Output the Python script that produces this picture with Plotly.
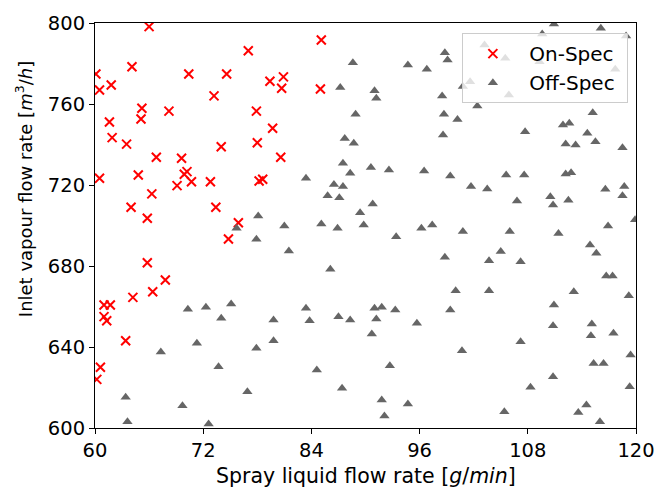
import plotly.graph_objects as go

# On-spec operating points: spray liquid flow [g/min], inlet vapour flow [m^3/h]
on_x = [66.0, 77.0, 64.1, 60.1, 70.4, 74.6, 79.4, 80.9, 80.7, 61.8, 60.5, 73.2,
        65.2, 65.1, 68.2, 77.9, 61.6, 79.7, 61.9, 63.5, 74.0, 78.0, 66.8, 69.6,
        80.6, 60.5, 64.8, 70.2, 69.9, 70.7, 69.1, 72.8, 78.2, 78.6, 66.3, 64.0,
        73.4, 65.8, 75.9, 74.8, 65.8, 67.8, 66.4, 64.2, 61.0, 61.7, 61.0, 61.3,
        63.4, 60.6, 60.2, 85.1, 85.0]
on_y = [798.2, 786.3, 778.4, 774.8, 774.8, 774.8, 771.2, 773.4, 767.8, 769.4, 766.9, 764.0,
        757.9, 752.6, 756.5, 756.5, 751.1, 748.0, 743.4, 740.2, 738.9, 740.9, 733.7, 733.2,
        733.7, 723.3, 724.9, 726.6, 725.3, 721.6, 719.7, 721.6, 722.0, 722.8, 715.6, 709.0,
        709.0, 703.6, 701.4, 693.3, 681.6, 673.1, 667.3, 664.5, 660.7, 660.7, 655.0, 653.0,
        643.1, 630.0, 624.0, 791.6, 767.4]

# Off-spec operating points
off_x = [78.1, 75.7, 77.9, 70.3, 72.3, 75.1, 74.0, 79.8, 79.8, 71.3, 77.9, 67.3,
         73.7, 76.9, 63.4, 69.7, 63.6, 72.6,
         81.0, 85.1, 86.9, 89.8, 93.4, 96.2, 97.4, 81.5, 98.8, 86.1, 100.0, 83.4,
         91.0, 91.8, 93.3, 99.4, 83.8, 87.0, 88.3, 91.2, 95.7, 90.7, 100.7, 84.6,
         92.7, 87.4, 91.8, 94.7, 92.1,
         100.8, 106.0, 111.4, 116.9, 119.9, 105.0, 103.7, 107.2, 114.9, 115.6, 116.7,
         117.4, 103.7, 113.1, 119.2, 110.9, 110.8, 115.1, 115.0, 117.5, 107.2, 119.4,
         115.3, 116.4, 110.8, 108.3, 119.3, 114.5, 113.6, 105.4, 116.0,
         88.6, 94.7, 96.8, 98.8, 99.1, 87.2, 91.0, 91.2, 98.5, 88.9, 98.7, 100.2,
         87.7, 88.7, 98.6, 87.5, 90.6, 92.6, 96.5, 99.4, 88.3, 83.4, 86.5, 87.5,
         85.8, 87.1, 90.8, 89.4,
         110.9, 116.1, 118.9, 109.6, 105.5, 109.3, 103.2, 117.7, 101.6, 100.8, 105.9,
         102.4, 115.2, 107.7, 111.9, 112.6, 114.6, 112.2, 113.3, 115.5, 118.5, 105.6,
         107.6, 112.2, 112.8, 101.7, 103.5, 116.6, 118.7, 118.5, 106.8, 110.5, 110.8,
         112.5]
off_y = [704.7, 698.6, 693.2, 658.6, 659.6, 661.2, 654.2, 653.3, 643.1, 641.8, 639.4, 637.5,
         630.3, 617.9, 615.2, 611.0, 603.1, 602.0,
         699.8, 700.7, 698.6, 700.2, 694.5, 698.6, 700.2, 687.4, 684.3, 678.4, 667.8, 659.1,
         659.1, 659.6, 658.3, 658.3, 653.0, 655.0, 653.3, 653.8, 651.7, 646.4, 638.2, 628.6,
         630.8, 619.6, 613.8, 611.8, 605.9,
         697.0, 697.0, 696.1, 699.8, 702.8, 687.1, 682.6, 682.1, 690.4, 686.3, 675.1,
         675.1, 667.8, 667.3, 665.3, 660.7, 650.5, 651.4, 645.6, 646.8, 642.6, 636.0,
         631.9, 631.9, 625.3, 620.1, 620.4, 611.4, 607.6, 608.0, 603.1,
         780.4, 779.3, 777.1, 785.3, 781.7, 768.1, 766.6, 762.8, 764.0, 754.9, 754.9, 752.4,
         743.0, 740.6, 744.7, 730.7, 728.7, 727.4, 726.9, 724.4, 725.8, 723.3, 720.3, 719.2,
         714.7, 713.7, 710.6, 706.3,
         799.5, 797.4, 793.6, 794.6, 782.6, 780.9, 789.1, 777.1, 771.0, 768.6, 764.4,
         759.0, 755.7, 746.3, 749.6, 750.5, 745.5, 740.2, 739.8, 741.4, 738.4, 724.9,
         724.9, 725.4, 726.1, 719.2, 718.0, 717.9, 719.2, 714.7, 712.1, 714.2, 710.1,
         712.5]

x_ticks = [60, 72, 84, 96, 108, 120]
y_ticks = [600, 640, 680, 720, 760, 800]

FONT = "DejaVu Sans"
NBSP = "\u00a0"  # spacing inside legend labels


def legend_label(text):
    return NBSP + text + NBSP


fig = go.Figure()
fig.add_trace(go.Scatter(
    x=on_x, y=on_y, mode="markers", name=legend_label("On-Spec"),
    marker=dict(symbol="x-thin", size=9, color="#ff0000",
                line=dict(width=2, color="#ff0000")),
))
fig.add_trace(go.Scatter(
    x=off_x, y=off_y, mode="markers", name=legend_label("Off-Spec"),
    marker=dict(symbol="triangle-up", size=9, color="#666666",
                line=dict(width=0)),
))

axis_common = dict(
    showline=True, linecolor="black", linewidth=1, mirror=True,
    ticks="outside", ticklen=5, tickwidth=1, tickcolor="black",
    showgrid=False, zeroline=False, automargin=False,
    tickfont=dict(family=FONT, size=19.5, color="black"),
)

fig.update_layout(
    width=656, height=487,
    margin=dict(l=95, r=20, t=23, b=59),
    paper_bgcolor="white", plot_bgcolor="white",
    font=dict(family=FONT, color="black"),
    xaxis=dict(range=[60, 120], tickvals=x_ticks, ticktext=[str(v) for v in x_ticks],
               **axis_common),
    yaxis=dict(range=[600, 800], tickvals=y_ticks, ticktext=[str(v) for v in y_ticks],
               **axis_common),
    legend=dict(x=0.985, y=0.975, xanchor="right", yanchor="top",
                bgcolor="rgba(255,255,255,0.8)", bordercolor="#cccccc", borderwidth=1,
                font=dict(family=FONT, size=20, color="black"),
                itemwidth=50, tracegroupgap=0),
    showlegend=True,
)

# Axis labels
fig.add_annotation(
    text="Spray liquid flow rate [<i>g</i>/<i>min</i>]",
    xref="paper", yref="paper", x=0.5, y=-0.1185,
    xanchor="center", yanchor="middle", showarrow=False,
    font=dict(family=FONT, size=20.5, color="black"),
)
fig.add_annotation(
    text="Inlet vapour flow rate [<i>m</i><sup>3</sup>/<i>h</i>]",
    xref="paper", yref="paper", x=-0.131, y=0.59,
    xanchor="center", yanchor="middle", textangle=-90, showarrow=False,
    font=dict(family=FONT, size=18, color="black"),
)

fig.write_html("out.html")
